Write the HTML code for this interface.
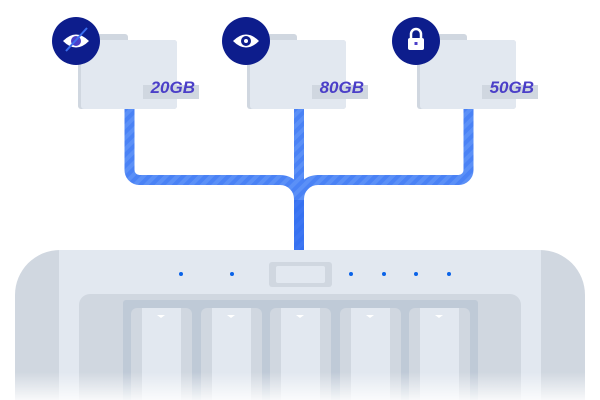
<!DOCTYPE html>
<html><head><meta charset="utf-8"><style>html,body{margin:0;padding:0;background:#fff}svg{display:block}</style></head>
<body>
<svg width="600" height="400" viewBox="0 0 600 400" xmlns="http://www.w3.org/2000/svg">
<defs>
<pattern id="st" width="8" height="8" patternUnits="userSpaceOnUse" patternTransform="rotate(45)">
<rect width="8" height="8" fill="#4a82f5"/><rect width="4" height="8" fill="#5b90f7"/>
</pattern>
<linearGradient id="fade" x1="0" y1="0" x2="0" y2="1">
<stop offset="0" stop-color="#fff" stop-opacity="0"/><stop offset="1" stop-color="#fff" stop-opacity="0.85"/>
</linearGradient>
</defs>
<g fill="none" stroke="url(#st)" stroke-width="10">
<path d="M129.5 108 V170 a10 10 0 0 0 10 10 H280 a19 19 0 0 1 19 19"/>
<path d="M468.5 108 V170 a10 10 0 0 1 -10 10 H318 a19 19 0 0 0 -19 19"/>
<path d="M299 108 V250"/>
</g>
<rect x="294" y="200" width="10" height="50" fill="#2a66ef" opacity="0.6"/>
<g id="f">
<rect x="78" y="34" width="50" height="12" rx="3" fill="#d0d7e0"/>
<rect x="78" y="40" width="99" height="69" rx="3" fill="#d0d7e0"/>
<rect x="81" y="40" width="96" height="69" rx="3" fill="#e2e8f0"/>
<rect x="143" y="85" width="56" height="14" fill="#d0d7e0"/>
</g>
<use href="#f" x="169"/>
<use href="#f" x="339"/>
<g font-family="Liberation Sans, sans-serif" font-weight="bold" font-style="italic" font-size="17" fill="#4b3fc8" text-anchor="end">
<text x="195" y="93">20GB</text><text x="364" y="93">80GB</text><text x="534" y="93">50GB</text>
</g>
<circle cx="76" cy="41" r="24" fill="#0d1d8c"/>
<circle cx="246" cy="41" r="24" fill="#0d1d8c"/>
<circle cx="416" cy="41" r="24" fill="#0d1d8c"/>
<g>
<path d="M63 41 Q76 28 89 41 Q76 54 63 41Z" fill="#fff"/><circle cx="76" cy="41" r="5" fill="#4b3fc8"/>
<line x1="66" y1="51" x2="87" y2="28" stroke="#3b6ff0" stroke-width="2"/>
</g>
<g>
<path d="M233 41 Q246 28 259 41 Q246 54 233 41Z" fill="#fff"/><circle cx="246" cy="41" r="5" fill="#0d1d8c"/><circle cx="246" cy="41" r="2" fill="#fff"/>
</g>
<g>
<path d="M411 38 v-4 a5 5 0 0 1 10 0 v4" fill="none" stroke="#fff" stroke-width="2.5"/>
<rect x="408" y="38" width="16" height="12" rx="2" fill="#fff"/><rect x="414.5" y="42" width="3" height="3" fill="#4b3fc8"/>
</g>
<path d="M60 250 H540 A45 45 0 0 1 585 295 V400 H15 V295 A45 45 0 0 1 60 250Z" fill="#d0d7e0"/>
<rect x="59" y="250" width="482" height="150" fill="#e2e8f0"/>
<rect x="79" y="294" width="442" height="120" rx="11" fill="#d0d7e0"/>
<rect x="123" y="300" width="355" height="110" rx="3" fill="#bfcad7"/>
<g id="d">
<rect x="131" y="308" width="61" height="100" rx="6" fill="#d0d7e0"/>
<rect x="142" y="308" width="39" height="100" fill="#e2e8f0"/>
<path d="M157 315 h8 l-4 3z" fill="#fff"/>
</g>
<use href="#d" x="70"/><use href="#d" x="139"/><use href="#d" x="209"/><use href="#d" x="278"/>
<rect x="269" y="262" width="63" height="25" rx="3" fill="#d0d7e0"/>
<rect x="276" y="266" width="49" height="17" rx="2" fill="#e2e8f0"/>
<g fill="#0a63e8">
<circle cx="181" cy="274" r="2"/><circle cx="232" cy="274" r="2"/><circle cx="351" cy="274" r="2"/><circle cx="384" cy="274" r="2"/><circle cx="416" cy="274" r="2"/><circle cx="449" cy="274" r="2"/>
</g>
<rect x="0" y="372" width="600" height="28" fill="url(#fade)"/>
</svg>
</body></html>
